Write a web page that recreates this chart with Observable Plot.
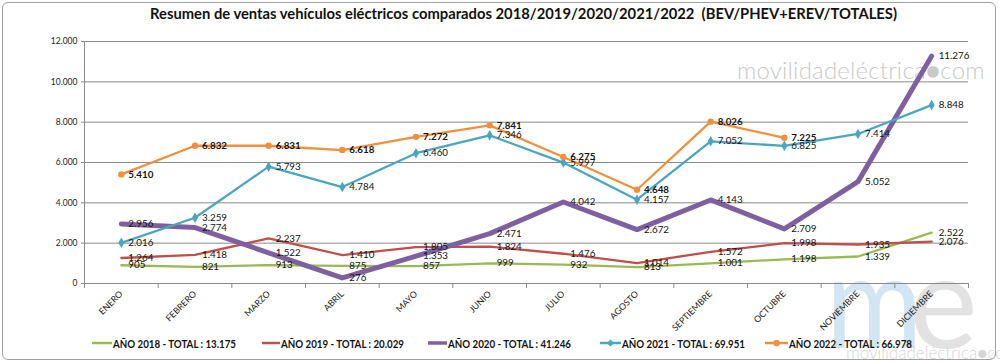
<!DOCTYPE html>
<html><head><meta charset="utf-8">
<script src="https://cdn.jsdelivr.net/npm/d3@7"></script>
<script src="https://cdn.jsdelivr.net/npm/@observablehq/plot@0.6"></script>
<style>
body{margin:0;background:#fff;}
#wrap{position:relative;width:1000px;height:363px;overflow:hidden;background:#fff;font-family:Lato,"Open Sans",sans-serif;color:#111;}
#frame{position:absolute;left:2px;top:2px;width:994px;height:358px;border:1px solid #a0a0a0;border-radius:6px;box-sizing:border-box;}
#chart{position:absolute;left:0;top:28px;}
.wm{position:absolute;white-space:nowrap;font-family:Lato,"Open Sans",sans-serif;line-height:1;}
.abs{position:absolute;left:0;}
</style></head>
<body>
<div id="wrap">
  <div class="wm" style="left:737px;top:58px;font-size:24px;color:#c9c9c9;font-weight:300;letter-spacing:0.2px;">movilidadeléctrica●com</div>
  <div class="wm" style="left:826px;top:233px;font-size:130px;color:#d2e5f3;transform:scaleX(0.9);transform-origin:left top;">m</div>
  <div class="wm" style="left:909px;top:233px;font-size:130px;color:#e2e2e2;">e</div>
  <div class="wm" style="left:846px;top:344px;font-size:17px;color:#d6d6d6;font-weight:300;">movilidadeléctrica●com</div>
  <div id="frame"></div>
  <svg id="title" class="abs" style="top:0" width="1000" height="28"></svg>
  <div id="chart"></div>
  <svg id="legend" class="abs" style="top:330px" width="1000" height="30"></svg>
</div>
<script>
const titleText = "Resumen de ventas vehículos eléctricos comparados 2018/2019/2020/2021/2022  (BEV/PHEV+EREV/TOTALES)";
const months = ["ENERO","FEBRERO","MARZO","ABRIL","MAYO","JUNIO","JULIO","AGOSTO","SEPTIEMBRE","OCTUBRE","NOVIEMBRE","DICIEMBRE"];
const years = ["AÑO 2018","AÑO 2019","AÑO 2020","AÑO 2021","AÑO 2022"];
const totals = [13175, 20029, 41246, 69951, 66978];
const v2018 = [905, 821, 913, 875, 857, 999, 932, 813, 1001, 1198, 1339, 2522];
const v2019 = [1264, 1418, 2237, 1410, 1805, 1824, 1476, 1014, 1572, 1998, 1935, 2076];
const v2020 = [2956, 2774, 1522, 276, 1353, 2471, 4042, 2672, 4143, 2709, 5052, 11276];
const v2021 = [2016, 3259, 5793, 4784, 6460, 7346, 5997, 4157, 7052, 6825, 7414, 8848];
const v2022 = [5410, 6832, 6831, 6618, 7272, 7841, 6275, 4648, 8026, 7225];
const yTicks = [0, 2000, 4000, 6000, 8000, 10000, 12000];

const valuesByYear = [v2018, v2019, v2020, v2021, v2022];
const colors = ["#98b954", "#bd4f4c", "#7e60a0", "#4aa6c0", "#f0903f"];
const widths = [2.3, 2.3, 5, 2.3, 2.3];
const markers = [null, null, null, "diamond", "circle"];

const fmt = d3.formatLocale({decimal: ",", thousands: ".", grouping: [3], currency: ["", ""]}).format(",");

const rows = valuesByYear.map((vals, s) => vals.map((v, i) => ({s, i, v})));

const marks = [
  Plot.gridY(yTicks.slice(1), {stroke: "#8a8a8a", strokeOpacity: 1, strokeWidth: 1}),
  Plot.ruleY([0], {stroke: "#8a8a8a"}),
  Plot.ruleX([-0.5], {stroke: "#8a8a8a"}),
  Plot.axisY({ticks: yTicks, tickFormat: fmt, tickSize: 3, tickPadding: 4, fontSize: 8.5, label: null, stroke: "#8a8a8a"}),
  Plot.axisX({ticks: d3.range(-0.5, 12, 1), tickFormat: () => "", tickSize: 5, label: null, stroke: "#8a8a8a"}),
  Plot.axisX({ticks: d3.range(0, 12), tickFormat: i => months[i], tickSize: 0, tickPadding: 9, tickRotate: -45, fontSize: 8.8, label: null})
];
rows.forEach((data, s) => {
  marks.push(Plot.line(data, {x: "i", y: "v", stroke: colors[s], strokeWidth: widths[s], strokeLinejoin: "round", strokeLinecap: "round"}));
});
rows.forEach((data, s) => {
  if (markers[s]) marks.push(Plot.dot(data, {x: "i", y: "v", symbol: markers[s], fill: colors[s], stroke: "none", r: 3.2}));
});
rows.forEach((data, s) => {
  marks.push(Plot.text(data, {x: "i", y: "v", text: d => fmt(d.v), dx: 7, textAnchor: "start", fontSize: 9.8, fontWeight: s === 4 ? "bold" : "normal", fill: "#111"}));
});

const chart = Plot.plot({
  width: 1000,
  height: 305,
  marginTop: 13,
  marginBottom: 50,
  marginLeft: 84,
  marginRight: 32,
  x: {type: "linear", domain: [-0.5, 11.5]},
  y: {domain: [0, 12000]},
  style: {background: "transparent", fontFamily: "Lato,'Open Sans',sans-serif", fontSize: "9px", color: "#222", overflow: "visible"},
  marks
});
document.getElementById("chart").appendChild(chart);

// title
const title = d3.select("#title");
title.append("text").attr("x", 150).attr("y", 18.5).attr("textLength", 747).attr("lengthAdjust", "spacingAndGlyphs")
  .attr("font-family", "Lato,'Open Sans',sans-serif").attr("font-weight", "bold").attr("font-size", 15).attr("fill", "#111")
  .style("white-space", "pre").text(titleText);

// legend
const swatchX = [92, 262, 428, 600, 765];
const textX = [113, 281, 448, 622, 789];
const lg = d3.select("#legend");
years.forEach((y, s) => {
  const cy = 13;
  lg.append("line").attr("x1", swatchX[s]).attr("x2", textX[s] - 1).attr("y1", cy).attr("y2", cy)
    .attr("stroke", colors[s]).attr("stroke-width", s === 2 ? 3.5 : 2.5);
  const mx = (swatchX[s] + textX[s] - 1) / 2;
  if (markers[s] === "diamond") lg.append("path").attr("d", `M${mx},${cy-3.5}L${mx+3.5},${cy}L${mx},${cy+3.5}L${mx-3.5},${cy}Z`).attr("fill", colors[s]);
  if (markers[s] === "circle") lg.append("circle").attr("cx", mx).attr("cy", cy).attr("r", 3.2).attr("fill", colors[s]);
  lg.append("text").attr("x", textX[s]).attr("y", cy + 4.5).attr("textLength", 123).attr("lengthAdjust", "spacingAndGlyphs")
    .attr("font-family", "Lato,'Open Sans',sans-serif").attr("font-weight", "bold").attr("font-size", 12).attr("fill", "#111")
    .text(`${y} - TOTAL : ${fmt(totals[s])}`);
});
</script>
</body></html>
